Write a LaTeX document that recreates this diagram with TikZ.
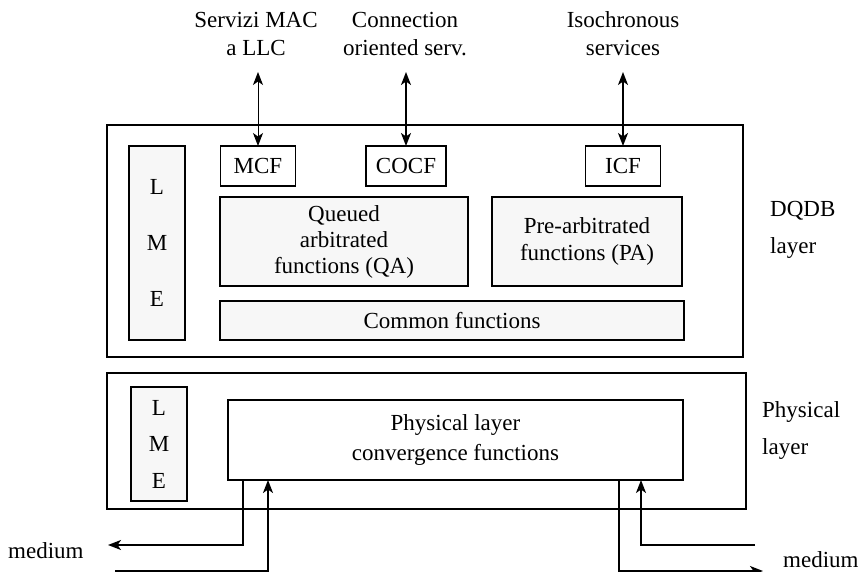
\documentclass[tikz,border=0pt]{standalone}
\usepackage{fontspec}
\setmainfont{Liberation Serif}
\usetikzlibrary{arrows.meta}
\begin{document}
\begin{tikzpicture}[x=1pt,y=-1pt,
  font=\fontsize{23}{27}\selectfont,
  box/.style={draw, line width=1.2pt, inner sep=0pt, outer sep=0pt, align=center},
  gbox/.style={box, fill=black!3},
  conn/.style={line width=1.6pt},
  thinconn/.style={line width=1pt},
  tipend/.style={-{Stealth[length=13pt,width=10pt,inset=3.5pt]}},
  tipboth/.style={{Stealth[length=13pt,width=10pt,inset=3.5pt]}-{Stealth[length=13pt,width=10pt,inset=3.5pt]}},
  lbl/.style={inner sep=0pt, align=center},
  sidelbl/.style={inner sep=0pt, align=left, anchor=west}]
\useasboundingbox (0,0) rectangle (865,572);

% DQDB layer
\node[box, minimum width=636pt, minimum height=232pt] (dqdb) at (425,241) {};
\node[gbox, minimum width=56pt, minimum height=194pt] (lmeA) at (157,243) {L\\[29pt]M\\[29pt]E};
\node[box, minimum width=75pt, minimum height=40pt] (mcf) at (258,166) {MCF};
\node[box, minimum width=80pt, minimum height=40pt] (cocf) at (406,166) {COCF};
\node[box, minimum width=75pt, minimum height=40pt] (icf) at (623,166) {ICF};
\node[gbox, minimum width=248pt, minimum height=89pt] (qa) at (344,241.5)
  {Queued\\[-1pt]arbitrated\\[-1pt]functions (QA)};
\node[gbox, minimum width=190pt, minimum height=89pt] (pa) at (587,241.5)
  {Pre-arbitrated\\functions (PA)};
\node[gbox, minimum width=464pt, minimum height=39pt] (common) at (452,320.5) {Common functions};
\node[sidelbl] (dqdblbl) at (770,229.5) {DQDB\\[10pt]layer};

% Physical layer
\node[box, minimum width=639pt, minimum height=136pt] (phys) at (426.5,441) {};
\node[gbox, minimum width=56pt, minimum height=114pt] (lmeB) at (159,444) {L\\[9.5pt]M\\[9.5pt]E};
\node[box, minimum width=455pt, minimum height=80pt] (plcf) at (455.5,440)
  {Physical layer\\[3pt]convergence functions};
\node[sidelbl] (physlbl) at (762,430.5) {Physical\\[10pt]layer};

% Top service labels
\node[lbl] (srvA) at (256,34) {Servizi MAC\\[1pt]a LLC};
\node[lbl] (srvB) at (405,34) {Connection\\[1pt]oriented serv.};
\node[lbl] (srvC) at (623,34) {Isochronous\\[1pt]services};

\coordinate (tA) at (258,72);
\coordinate (tB) at (406,72);
\coordinate (tC) at (623,72);
\draw[thinconn, tipboth] (tA) -- (mcf.north);
\draw[conn, tipboth] (tB) -- (cocf.north);
\draw[conn, tipboth] (tC) -- (icf.north);

% Medium connections
\node[inner sep=0pt, anchor=west] (medL) at (8,551) {medium};
\node[inner sep=0pt, anchor=west] (medR) at (783,560) {medium};

\coordinate (oL) at (243,480);
\coordinate (oLc) at (243,545);
\coordinate (oLt) at (108,545);
\coordinate (iLs) at (115,571);
\coordinate (iLc) at (268,571);
\coordinate (iL) at (268,480);
\coordinate (oR) at (619,480);
\coordinate (oRc) at (619,571);
\coordinate (oRt) at (763,571);
\coordinate (iRs) at (755,545);
\coordinate (iRc) at (641,545);
\coordinate (iR) at (641,480);

\draw[conn, tipend] (oL) -- (oLc) -- (oLt);
\draw[conn, tipend] (iLs) -- (iLc) -- (iL);
\draw[conn, tipend] (oR) -- (oRc) -- (oRt);
\draw[conn, tipend] (iRs) -- (iRc) -- (iR);
\end{tikzpicture}
\end{document}
